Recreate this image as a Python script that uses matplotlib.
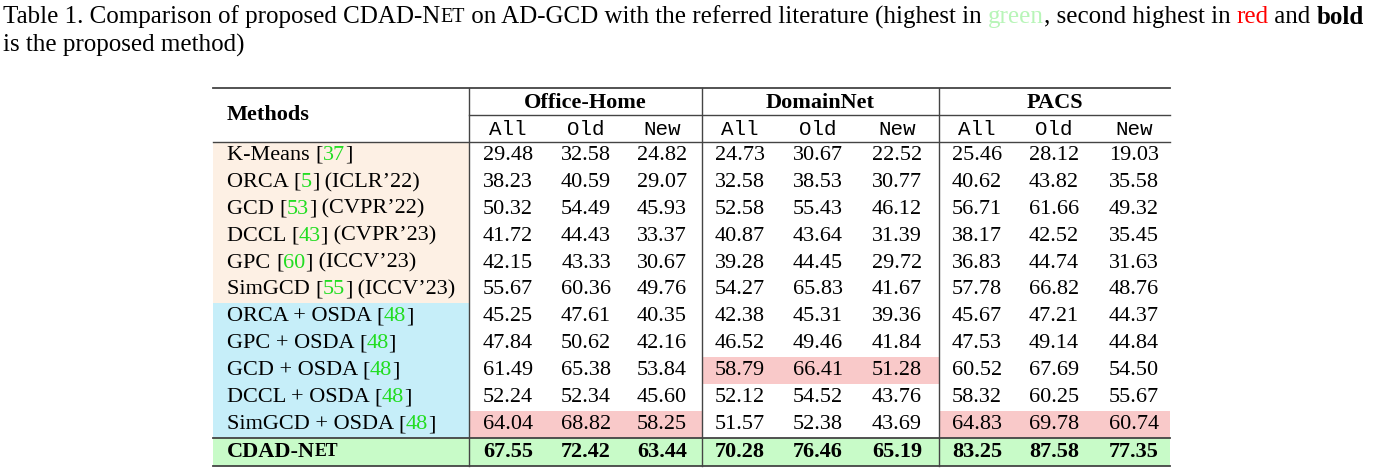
import matplotlib.pyplot as plt
from matplotlib.patches import Rectangle

plt.rcParams['font.family'] = ['Liberation Serif', 'DejaVu Serif']

methods = [
    ("K-Means ", "37", ""),
    ("ORCA ", "5", " (ICLR’22)"),
    ("GCD ", "53", " (CVPR’22)"),
    ("DCCL ", "43", " (CVPR’23)"),
    ("GPC ", "60", " (ICCV’23)"),
    ("SimGCD ", "55", " (ICCV’23)"),
    ("ORCA + OSDA ", "48", ""),
    ("GPC + OSDA ", "48", ""),
    ("GCD + OSDA ", "48", ""),
    ("DCCL + OSDA ", "48", ""),
    ("SimGCD + OSDA ", "48", ""),
]
datasets = ["Office-Home", "DomainNet", "PACS"]
subcols = ["All", "Old", "New"]
values = [
    [29.48, 32.58, 24.82, 24.73, 30.67, 22.52, 25.46, 28.12, 19.03],
    [38.23, 40.59, 29.07, 32.58, 38.53, 30.77, 40.62, 43.82, 35.58],
    [50.32, 54.49, 45.93, 52.58, 55.43, 46.12, 56.71, 61.66, 49.32],
    [41.72, 44.43, 33.37, 40.87, 43.64, 31.39, 38.17, 42.52, 35.45],
    [42.15, 43.33, 30.67, 39.28, 44.45, 29.72, 36.83, 44.74, 31.63],
    [55.67, 60.36, 49.76, 54.27, 65.83, 41.67, 57.78, 66.82, 48.76],
    [45.25, 47.61, 40.35, 42.38, 45.31, 39.36, 45.67, 47.21, 44.37],
    [47.84, 50.62, 42.16, 46.52, 49.46, 41.84, 47.53, 49.14, 44.84],
    [61.49, 65.38, 53.84, 58.79, 66.41, 51.28, 60.52, 67.69, 54.50],
    [52.24, 52.34, 45.60, 52.12, 54.52, 43.76, 58.32, 60.25, 55.67],
    [64.04, 68.82, 58.25, 51.57, 52.38, 43.69, 64.83, 69.78, 60.74],
]
ours = [67.55, 72.42, 63.44, 70.28, 76.46, 65.19, 83.25, 87.58, 77.35]
# second-best cells (row, dataset)
second = [(10, 0), (8, 1), (10, 2)]

fig = plt.figure(figsize=(13.9, 4.69), dpi=100)
ax = fig.add_axes([0, 0, 1, 1])
ax.set_xlim(0, 1390)
ax.set_ylim(469, 0)
ax.axis('off')
fig.canvas.draw()
r = fig.canvas.get_renderer()

cfs = 18
fs = 16
parts = [("Table 1. Comparison of proposed CDAD-N", 'black', 'normal', cfs),
         ("ET", 'black', 'normal', cfs * 0.8),
         (" on AD-GCD with the referred literature (highest in ", 'black', 'normal', cfs),
         ("green", '#b8f5b8', 'normal', cfs),
         (", second highest in ", 'black', 'normal', cfs),
         ("red", 'red', 'normal', cfs),
         (" and ", 'black', 'normal', cfs),
         ("bold", 'black', 'bold', cfs)]
x = 3
for s, c, w, f in parts:
    t = ax.text(x, 17, s, fontsize=f, color=c, fontweight=w, va='center')
    x += t.get_window_extent(r).width
ax.text(3, 45, "is the proposed method)", fontsize=cfs, va='center')

L, R = 213, 1170
dividers = [469, 702, 939]
top, hmid, hbot = 88, 115, 142
rowh = (438 - 142) / 11
last_top, bottom = 438, 466
centers = [508, 586, 662, 740, 818, 897, 977, 1054, 1134]

# backgrounds
for i in range(11):
    y0 = hbot + i * rowh
    col = '#fdf0e4' if i < 6 else '#c6eef9'
    ax.add_patch(Rectangle((L, y0), dividers[0] - L, rowh, color=col, lw=0))
for i, d in second:
    y0 = hbot + i * rowh
    ax.add_patch(Rectangle((dividers[d], y0), (dividers + [R])[d + 1] - dividers[d], rowh,
                           color='#f9c9c9', lw=0))
ax.add_patch(Rectangle((L, last_top), R - L, bottom - last_top, color='#c8fbc8', lw=0))

# rules
ax.plot([L, R], [top, top], color='#444', lw=1.3)
ax.plot([dividers[0], R], [hmid, hmid], color='#444', lw=1)
ax.plot([L, R], [hbot, hbot], color='#444', lw=1)
ax.plot([L, R], [last_top, last_top], color='#444', lw=1.3)
ax.plot([L, R], [bottom, bottom], color='#444', lw=1.3)
for d in dividers:
    ax.plot([d, d], [top, bottom], color='#444', lw=1)

# header
ax.text(227, (top + hbot) / 2, "Methods", fontsize=fs, fontweight='bold', va='center')
for k, name in enumerate(datasets):
    cx = (dividers[k] + (dividers + [R])[k + 1]) / 2
    ax.text(cx, (top + hmid) / 2 + 1, name, fontsize=fs, fontweight='bold', ha='center', va='center')
    for j, s in enumerate(subcols):
        ax.text(centers[k * 3 + j], (hmid + hbot) / 2 + 1, s, fontsize=15,
                family='Liberation Mono', ha='center', va='center')

# body
for i, (pre, ref, post) in enumerate(methods):
    yc = hbot + (i + 0.5) * rowh
    x = 227
    for s, c in [(pre, 'black'), ("[", 'black'), (ref, '#22dd22'), ("]", 'black'), (post, 'black')]:
        if not s:
            continue
        t = ax.text(x, yc, s, fontsize=fs, color=c, va='center')
        x += t.get_window_extent(r).width
    for j, v in enumerate(values[i]):
        ax.text(centers[j], yc, f"{v:.2f}", fontsize=fs, ha='center', va='center')

yc = (last_top + bottom) / 2
t = ax.text(227, yc, "CDAD-N", fontsize=fs, fontweight='bold', va='center')
ax.text(227 + t.get_window_extent(r).width, yc, "ET", fontsize=fs * 0.8, fontweight='bold', va='center')
for j, v in enumerate(ours):
    ax.text(centers[j], yc, f"{v:.2f}", fontsize=fs, fontweight='bold', ha='center', va='center')

fig.savefig("out.png", dpi=100)
